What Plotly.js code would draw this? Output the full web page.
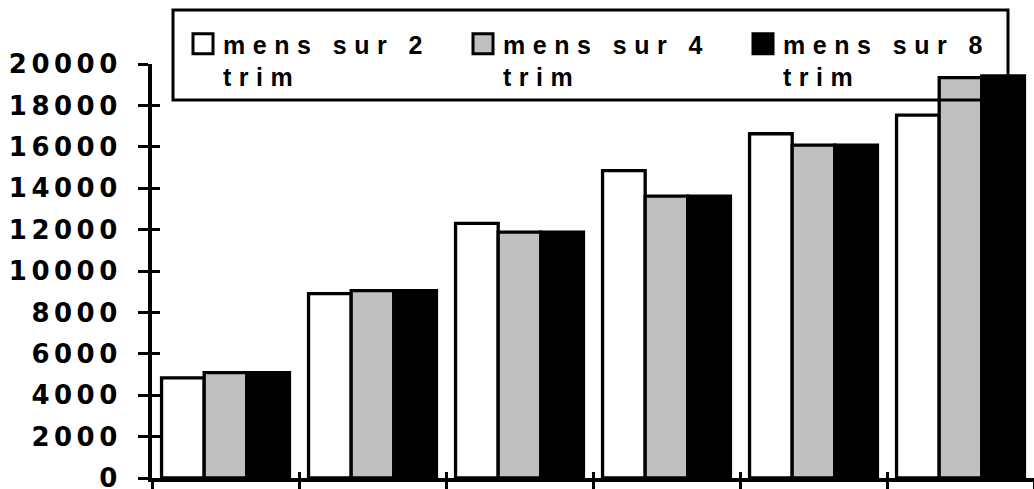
<!DOCTYPE html>
<html>
<head>
<meta charset="utf-8">
<script src="https://cdn.plot.ly/plotly-3.0.1.min.js"></script>
<style>
  html, body { margin: 0; padding: 0; background: #fff; }
  #chart { width: 1034px; height: 489px; }
  .ytick text { letter-spacing: 4.5px; }
  .legendtext { letter-spacing: 7.5px; }
</style>
</head>
<body>
<div id="chart"></div>
<script>
// Six consecutive periods, three smoothing horizons
const periods = [1, 2, 3, 4, 5, 6];
const seriesNames = ['mens sur 2<br>trim', 'mens sur 4<br>trim', 'mens sur 8<br>trim'];
const mens2 = [4840, 8910, 12300, 14850, 16630, 17530];
const mens4 = [5090, 9050, 11880, 13620, 16080, 19340];
const mens8 = [5090, 9050, 11880, 13620, 16080, 19420];
const yTicks = [0, 2000, 4000, 6000, 8000, 10000, 12000, 14000, 16000, 18000, 20000];
const fills = ['#ffffff', '#c0c0c0', '#000000'];

const values = [mens2, mens4, mens8];
const traces = values.map((v, i) => ({
  type: 'bar',
  name: seriesNames[i],
  x: periods,
  y: v,
  marker: { color: fills[i], line: { color: '#000', width: 3.3 } },
  hoverinfo: 'skip'
}));

// empty helper trace so the overlay axes (inner half of the crossing ticks) get drawn
traces.push({ type: 'scatter', x: [], y: [], xaxis: 'x2', yaxis: 'y2', showlegend: false, hoverinfo: 'skip' });

const boundaries = periods.map(p => p - 0.5).concat([periods[periods.length - 1] + 0.5]);
const xRange = [periods[0] - 0.5, periods[periods.length - 1] + 0.5];
const yRange = [yTicks[0], yTicks[yTicks.length - 1]];

// plot area in pixels (for placing the legend frame)
const W = 1034, H = 489, ML = 152, MR = 0, MT = 64, MB = 11;
const pw = W - ML - MR, ph = H - MT - MB;
const px = x => (x - ML) / pw;
const py = y => (H - MB - y) / ph;

const tickFont = { family: 'DejaVu Sans', size: 26, color: '#000', weight: 'bold' };

const layout = {
  width: W, height: H,
  margin: { l: ML, r: MR, t: MT, b: MB, pad: 0 },
  paper_bgcolor: '#fff', plot_bgcolor: '#fff',
  barmode: 'group', bargap: 0.13, bargroupgap: 0,
  showlegend: true,
  legend: {
    orientation: 'h',
    x: px(183), y: py(21), xanchor: 'left', yanchor: 'top',
    bgcolor: 'rgba(0,0,0,0)', borderwidth: 0,
    font: { family: 'Liberation Sans', size: 25, color: '#000', weight: 'bold' },
    itemwidth: 30, entrywidth: 235, entrywidthmode: 'pixels',
    valign: 'top', traceorder: 'normal', itemclick: false, itemdoubleclick: false
  },
  xaxis: {
    type: 'linear', range: xRange, fixedrange: true,
    tickmode: 'array', tickvals: boundaries, showticklabels: false,
    ticks: 'outside', ticklen: 7, tickwidth: 3, tickcolor: '#000',
    showline: true, linecolor: '#000', linewidth: 4,
    showgrid: false, zeroline: false
  },
  xaxis2: {
    type: 'linear', range: xRange, overlaying: 'x', anchor: 'y2', side: 'bottom', fixedrange: true,
    tickmode: 'array', tickvals: boundaries, showticklabels: false,
    ticks: 'inside', ticklen: 6, tickwidth: 3, tickcolor: '#000',
    showline: false, showgrid: false, zeroline: false
  },
  yaxis: {
    range: yRange, fixedrange: true,
    tickmode: 'array', tickvals: yTicks, ticktext: yTicks.map(String),
    ticks: 'outside', ticklen: 10, tickwidth: 3, tickcolor: '#000',
    ticklabelstandoff: 11, ticklabeloverflow: 'allow',
    tickfont: tickFont,
    showline: true, linecolor: '#000', linewidth: 4,
    showgrid: false, zeroline: false
  },
  yaxis2: {
    range: yRange, overlaying: 'y', anchor: 'x2', side: 'left', fixedrange: true,
    tickmode: 'array', tickvals: yTicks, showticklabels: false,
    ticks: 'inside', ticklen: 8, tickwidth: 3, tickcolor: '#000',
    showline: false, showgrid: false, zeroline: false
  },
  shapes: [{
    type: 'rect', xref: 'paper', yref: 'paper', layer: 'above',
    x0: px(173), x1: px(1008), y0: py(100), y1: py(10),
    line: { color: '#000', width: 3 }, fillcolor: 'rgba(0,0,0,0)'
  }]
};

Plotly.newPlot('chart', traces, layout, { displayModeBar: false, staticPlot: true }).then(gd => {
  // larger legend swatches
  gd.querySelectorAll('.legendpoints path').forEach(p => {
    p.setAttribute('d', 'M10,10H-10V-10H10Z');
    p.style.strokeWidth = '3px';
  });
});
</script>
</body>
</html>
